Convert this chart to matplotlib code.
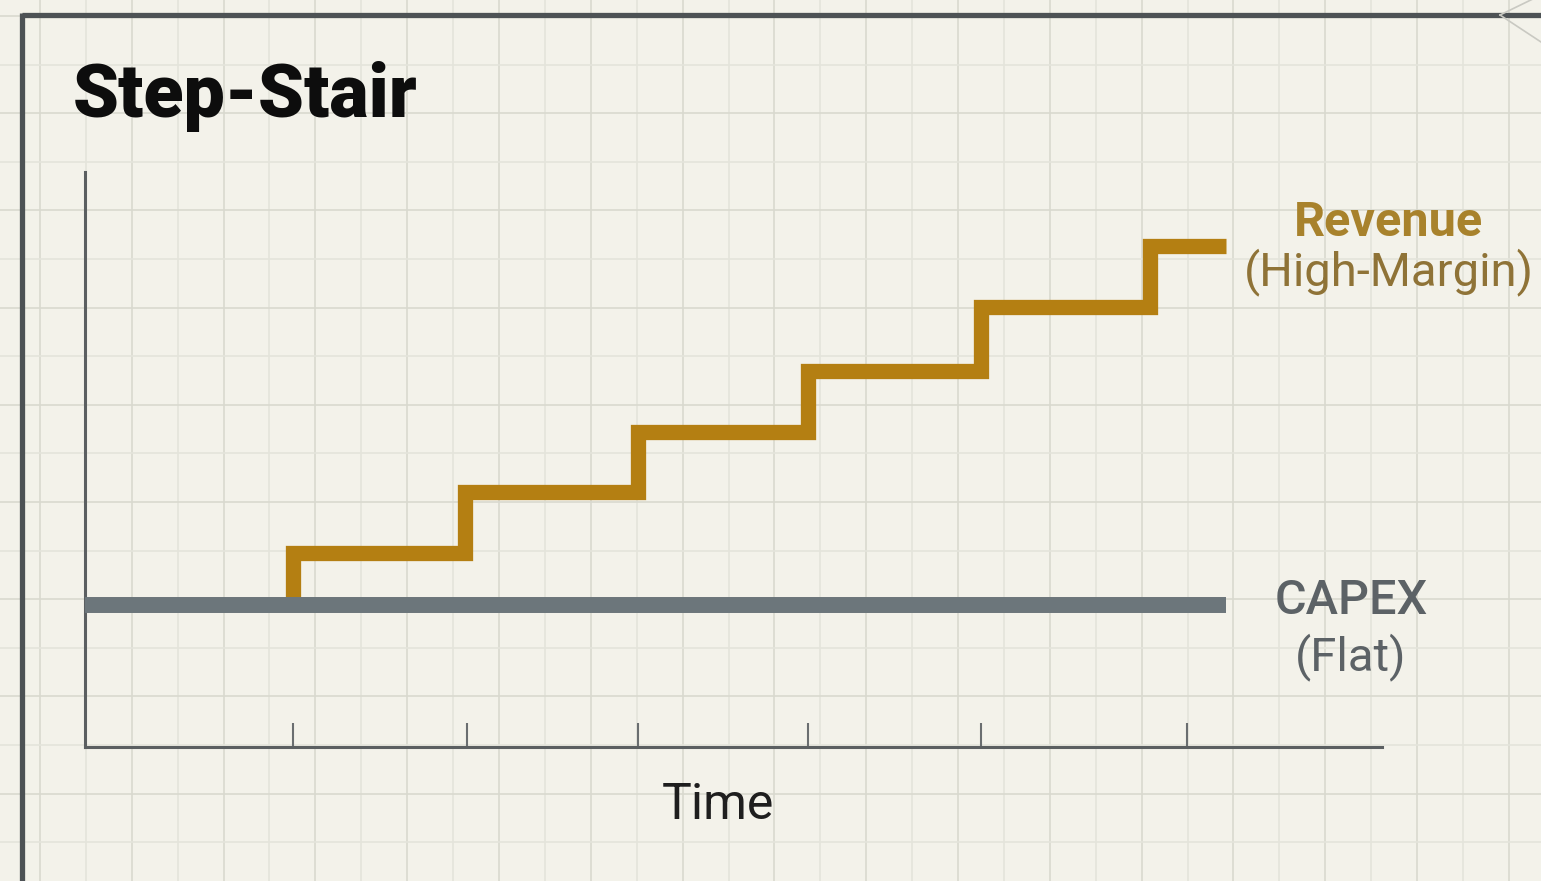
import matplotlib
matplotlib.use("Agg")
import matplotlib.pyplot as plt
import numpy as np

# ---- data ----
rev_x = [1.2, 1.2, 2.2, 3.2, 4.18, 5.18, 6.16, 6.6]
rev_y = [2.47, 3.37, 4.43, 5.48, 6.54, 7.65, 8.71, 8.71]
capex_x = [0.0, 6.6]
capex_y = [2.47, 2.47]
tick_x = [1.2, 2.21, 3.2, 4.18, 5.18, 6.37]

W, H = 1541, 881
BG = "#f3f2ea"
fig = plt.figure(figsize=(W / 100, H / 100), dpi=100, facecolor=BG)

# background grid + frame (pixel coordinates)
bg = fig.add_axes([0, 0, 1, 1])
bg.set_xlim(0, W)
bg.set_ylim(H, 0)
bg.axis("off")
bg.set_facecolor(BG)
for i, gx in enumerate(np.arange(40, W, 45.9)):
    bg.axvline(gx, color="#d9d9cf" if i % 2 == 0 else "#e4e4db", lw=1.2, zorder=0)
for i, gy in enumerate(np.arange(16, H, 48.6)):
    bg.axhline(gy, color="#d9d9cf" if i % 2 == 0 else "#e4e4db", lw=1.2, zorder=0)
bg.plot([22, W], [15, 15], color="#4d5255", lw=3.8, solid_capstyle="butt", zorder=1)
bg.plot([22, 22], [13, H], color="#4d5255", lw=3.8, solid_capstyle="butt", zorder=1)
bg.plot([1500, 1541], [15, 42], color="#c9c9c2", lw=1.2, zorder=1)
bg.plot([1500, 1541], [15, -5], color="#c9c9c2", lw=1.2, zorder=1)

# main axes
x0, x1, ytop, ybot = 85, 1382, 172, 747
ax = fig.add_axes([x0 / W, (H - ybot) / H, (x1 - x0) / W, (ybot - ytop) / H])
ax.patch.set_alpha(0)
ax.set_xlim(0, 7.5)
ax.set_ylim(0, 10)
for s in ["top", "right"]:
    ax.spines[s].set_visible(False)
for s in ["left", "bottom"]:
    ax.spines[s].set_color("#5b5f61")
    ax.spines[s].set_linewidth(2.2)
ax.set_xticks(tick_x)
ax.set_xticklabels([])
ax.set_yticks([])
ax.tick_params(axis="x", direction="in", length=17, width=1.5, color="#6a6e70")

ax.plot(rev_x, rev_y, drawstyle="steps-post", color="#b47f12", lw=11,
        solid_joinstyle="miter", solid_capstyle="butt", zorder=3)
ax.plot(capex_x, capex_y, color="#6c767b", lw=11.5, solid_capstyle="butt", zorder=4)

fam = ["Roboto", "DejaVu Sans"]
ax.text(7.54, 9.12, "Revenue", ha="center", va="center", fontsize=35,
        color="#a8822c", fontweight="bold", family=fam, clip_on=False)
ax.text(7.54, 8.26, "(High-Margin)", ha="center", va="center", fontsize=34,
        color="#8f7337", family=fam, clip_on=False)
ax.text(7.32, 2.54, "CAPEX", ha="center", va="center", fontsize=35,
        color="#5c6266", fontweight="medium", family=fam, clip_on=False)
ax.text(7.32, 1.57, "(Flat)", ha="center", va="center", fontsize=34,
        color="#5c6266", family=fam, clip_on=False)
ax.text(3.66, -1.01, "Time", ha="center", va="center", fontsize=36,
        color="#1e1e1e", family=fam, clip_on=False)

fig.text(73 / W, 1 - 97 / H, "Step-Stair", ha="left", va="center", fontsize=53,
         fontweight="black", color="#0d0d0d", family=fam)

fig.savefig("out.png", dpi=100, facecolor=BG)
